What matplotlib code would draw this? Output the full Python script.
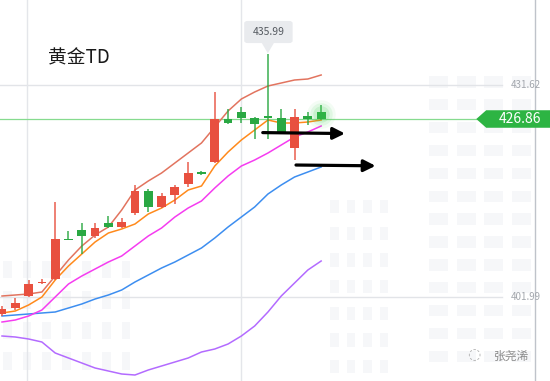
import numpy as np
import matplotlib.pyplot as plt
from matplotlib.patches import Polygon, FancyBboxPatch, Rectangle

plt.rcParams['font.family'] = ['Noto Sans CJK SC', 'DejaVu Sans']

# candles (price units)
opens = [399.56, 400.40, 402.08, 403.90, 404.46, 410.06, 411.32, 410.48, 412.30, 411.74,
         413.70, 416.78, 414.54, 416.22, 417.76, 419.37, 420.84, 426.86, 427.84, 427.00,
         427.28, 427.00, 422.80, 427.28, 427.84]
highs = [400.68, 401.80, 404.32, 404.46, 415.24, 411.18, 412.30, 412.30, 413.28, 413.00,
         417.62, 417.06, 416.50, 417.62, 420.84, 419.58, 430.64, 428.26, 428.54, 427.10,
         435.99, 428.26, 428.26, 427.84, 428.82]
lows = [399.28, 400.12, 401.94, 403.76, 404.30, 409.90, 407.98, 410.20, 411.60, 411.60,
        413.42, 413.84, 414.40, 414.96, 417.34, 419.02, 420.70, 426.20, 426.30, 424.06,
        424.06, 424.80, 421.12, 426.02, 426.70]
closes = [400.26, 401.10, 403.76, 404.04, 410.06, 409.92, 410.48, 411.60, 411.74, 412.44,
          416.78, 414.54, 416.08, 417.34, 419.30, 419.23, 426.86, 426.30, 427.00, 426.16,
          427.00, 424.90, 427.14, 426.86, 426.86]

# overlay lines
ma_red = [402.08, 402.22, 402.36, 402.64, 404.88, 407.12, 409.08, 410.62, 411.74, 414.12,
          416.92, 418.18, 419.30, 420.70, 422.10, 423.50, 425.74, 427.98, 429.66, 430.64,
          431.48, 431.90, 432.32, 432.46, 433.02]
ma_orange = [399.70, 399.98, 400.82, 401.94, 404.32, 406.28, 407.96, 409.64, 410.90, 411.46,
             412.16, 413.56, 414.40, 415.52, 416.92, 417.48, 420.28, 422.24, 423.92, 425.32,
             426.72, 426.30, 426.30, 426.44, 426.72]
ma_magenta = [398.44, 398.72, 399.28, 400.12, 401.94, 403.76, 404.88, 405.86, 406.84, 407.68,
              409.08, 410.48, 411.60, 413.14, 414.40, 415.38, 417.20, 418.88, 420.28, 421.12,
              422.10, 423.22, 424.34, 425.04, 425.88]
ma_blue = [399.28, 399.42, 399.56, 399.70, 399.84, 400.40, 400.96, 401.66, 402.22, 402.92,
           404.04, 405.02, 406.00, 406.84, 407.82, 408.80, 410.20, 411.74, 413.14, 414.54,
           416.36, 417.62, 418.74, 419.44, 420.14]
ma_purple = [396.48, 396.34, 396.06, 395.64, 394.10, 393.40, 392.70, 392.00, 391.58, 391.16,
             391.02, 391.72, 392.28, 392.84, 393.40, 394.24, 394.66, 395.36, 396.48, 397.88,
             399.84, 402.08, 403.90, 405.72, 406.98]

grid_prices = [431.62, 401.99]
last_price = 426.86
peak_price = 435.99
title = "黄金TD"
author = "张尧浠"

UP, DOWN = "#e8503f", "#2aa843"

fig = plt.figure(figsize=(5.5, 3.81), dpi=100)
ax = fig.add_axes([0, 0, 1, 1])
ax.set_xlim(-0.151, 41.21)
ax.set_ylim(390.18, 443.52)
ax.axis("off")

x = np.arange(len(opens))

# faint city-block backdrop (pure decoration, axes fractions)
def windows(x0, x1, y0, y1, dx, dy, w, hgt):
    for wx in np.arange(x0, x1, dx):
        for wy in np.arange(y0, y1, dy):
            ax.add_patch(Rectangle((wx, wy), w, hgt, transform=ax.transAxes,
                                   fc="#f6f7f9", ec="none", zorder=0))

windows(0.005, 0.23, 0.03, 0.34, 0.036, 0.08, 0.016, 0.045)
windows(0.60, 0.70, 0.02, 0.45, 0.03, 0.07, 0.016, 0.035)
windows(0.78, 0.98, 0.05, 0.78, 0.05, 0.06, 0.035, 0.03)

# grid
for p in grid_prices:
    ax.plot([-1, 37.6], [p, p], color="#e2e4e8", lw=1, zorder=1)
    ax.text(0.983, p, f"{p:.2f}", transform=ax.get_yaxis_transform(), ha="right",
            va="center", fontsize=7, color="#a3a7ad", zorder=3)
for gx in [1.9, 17.96]:
    ax.axvline(gx, color="#e4e6ea", lw=1, zorder=1)
ax.axvline(40.08, color="#bfc3ca", lw=1, zorder=2)

# last price line
ax.plot([-1, 35.8], [last_price, last_price], color="#86db8f", lw=0.9, zorder=2)

# overlay lines
ax.plot(x, ma_purple, color="#b36bff", lw=1.1, zorder=3)
ax.plot(x, ma_blue, color="#3d8ef0", lw=1.1, zorder=3)
ax.plot(x, ma_magenta, color="#f53cf0", lw=1.1, zorder=3)
ax.plot(x, ma_orange, color="#ff8a1c", lw=1.1, zorder=3)
ax.plot(x, ma_red, color="#e2745f", lw=1.1, zorder=3)

# candles
o, h, l, c = map(np.array, (opens, highs, lows, closes))
cols = [UP if cc > oo else DOWN for oo, cc in zip(o, c)]
ax.vlines(x, l, h, colors=cols, lw=1.2, alpha=0.85, zorder=4)
body = np.maximum(np.abs(c - o), 0.15)
ax.bar(x, body, bottom=np.minimum(o, c), width=0.66, color=cols, zorder=5)

# glow on the live candle
for s, a in [(420, 0.06), (260, 0.1), (140, 0.15)]:
    ax.scatter([x[-1]], [427.6], s=s, color="#40d050", alpha=a, lw=0, zorder=6)

# peak tooltip
box = FancyBboxPatch((0.444, 0.887), 0.088, 0.058, boxstyle="round,pad=0,rounding_size=0.006",
                     transform=ax.transAxes, fc="#e9ebee", ec="none", zorder=6)
ax.add_patch(box)
ax.add_patch(Polygon([[0.476, 0.887], [0.498, 0.887], [0.487, 0.86]], closed=True,
                     transform=ax.transAxes, fc="#e9ebee", ec="none", zorder=6))
ax.text(0.488, 0.916, f"{peak_price:.2f}", transform=ax.transAxes, ha="center",
        va="center", fontsize=7.5, color="#555a60", zorder=7)

# last price tag
yt = ax.transData.transform((0, last_price))[1] / fig.bbox.height
ax.add_patch(Polygon([[0.866, yt], [0.884, yt + 0.023], [1.0, yt + 0.023],
                      [1.0, yt - 0.023], [0.884, yt - 0.023]], closed=True,
                     transform=ax.transAxes, fc="#2db443", ec="none", zorder=7))
ax.text(0.945, yt, f"{last_price:.2f}", transform=ax.transAxes, ha="center",
        va="center", fontsize=10, color="white", zorder=8)

# hand-drawn arrows
arrow = dict(arrowstyle="-|>,head_length=0.7,head_width=0.35", color="black", lw=2.3)
ax.annotate("", xy=(26.0, 424.82), xytext=(19.4, 424.96), arrowprops=arrow, zorder=8)
ax.annotate("", xy=(28.3, 420.30), xytext=(21.9, 420.42), arrowprops=arrow, zorder=8)

# title and watermark
ax.text(0.088, 0.847, title, transform=ax.transAxes, ha="left", va="center",
        fontsize=13.5, color="#1a1a1a", zorder=8)
ax.text(0.898, 0.066, author, transform=ax.transAxes, ha="left", va="center",
        fontsize=8.5, color="#8a8a8a", zorder=8)
ax.text(0.862, 0.068, "◌", transform=ax.transAxes, ha="center", va="center",
        fontsize=11, color="#b0b0b0", family=["DejaVu Sans"], zorder=8)

fig.savefig("out.png", dpi=100)
